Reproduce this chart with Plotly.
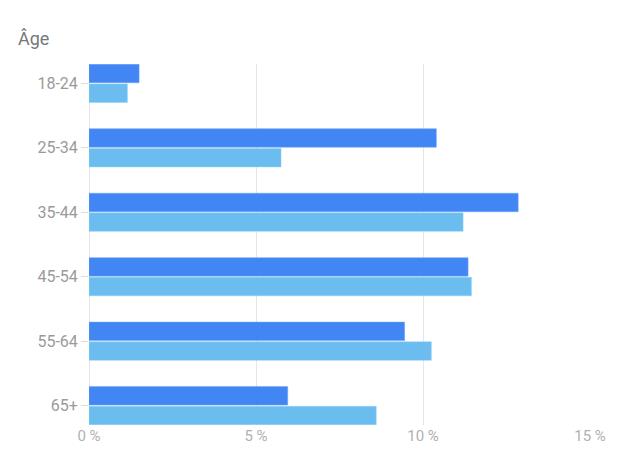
import plotly.graph_objects as go

categories = ["18-24", "25-34", "35-44", "45-54", "55-64", "65+"]
series_a = [1.5, 10.4, 12.85, 11.35, 9.45, 5.95]
series_b = [1.15, 5.75, 11.2, 11.45, 10.25, 8.6]
x_ticks = [0, 5, 10, 15]
x_tick_labels = ["0 %", "5 %", "10 %", "15 %"]

fig = go.Figure()
fig.add_trace(go.Bar(y=categories, x=series_a, orientation="h",
                     marker=dict(color="#4286f4", line=dict(color="#6fa3f7", width=0.5)),
                     showlegend=False))
fig.add_trace(go.Bar(y=categories, x=series_b, orientation="h",
                     marker=dict(color="#6bbdf0", line=dict(color="#8fd0f5", width=0.5)),
                     showlegend=False))

fig.update_layout(
    width=640, height=463,
    barmode="group", bargap=0.39, bargroupgap=0.06,
    plot_bgcolor="white", paper_bgcolor="white",
    margin=dict(l=89, r=50, t=64, b=38),
    font=dict(family="Roboto, sans-serif"),
)
fig.add_annotation(text="Âge", xref="paper", yref="paper", x=-0.145, y=1.072,
                   xanchor="left", yanchor="middle", showarrow=False,
                   font=dict(size=18, color="#777777"))

fig.update_xaxes(range=[0, 15], tickmode="array", tickvals=x_ticks, ticktext=x_tick_labels,
                 showgrid=True, gridcolor="#e6e6e6", gridwidth=1,
                 zeroline=True, zerolinecolor="#e6e6e6", zerolinewidth=1,
                 tickfont=dict(size=15, color="#b0b0b0"), showline=False)
fig.update_yaxes(categoryorder="array", categoryarray=categories,
                 range=[5.3, -0.3], ticks="outside", ticklen=7, tickcolor="#dddddd",
                 tickfont=dict(size=16, color="#9a9a9a"), showgrid=False,
                 showline=False, zeroline=False)

fig.write_html("out.html", config={"displayModeBar": False},
               post_script="document.body.style.margin='0';")
